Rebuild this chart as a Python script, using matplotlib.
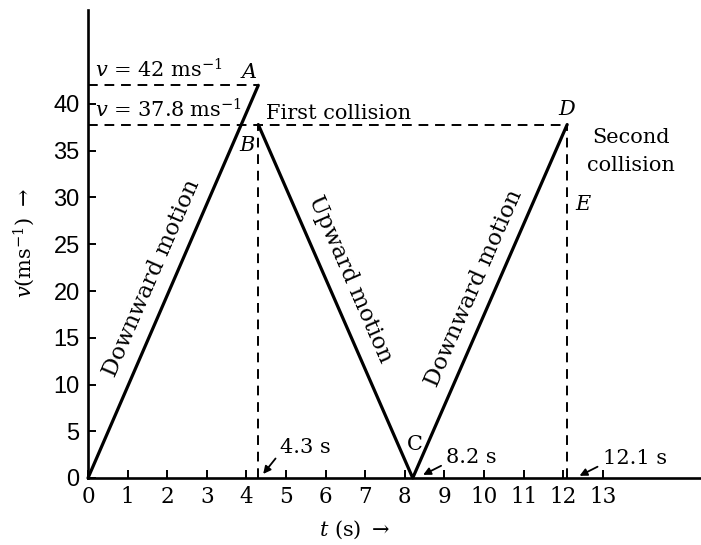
import numpy as np
import matplotlib.pyplot as plt

plt.rcParams['font.family'] = ['DejaVu Serif']
plt.rcParams['mathtext.fontset'] = 'dejavuserif'

# velocity-time path of the bouncing ball: O -> A, B -> C -> D
t_pts = [0.0, 4.3, 4.3, 8.2, 12.1]
v_pts = [0.0, 42.0, 37.8, 0.0, 37.8]
point_names = ['A', 'B', 'C', 'D']
x_ticks = list(range(0, 14))
y_ticks = list(range(0, 45, 5))
t_marks = [4.3, 8.2, 12.1]
v_peak = 42.0
v_rebound = 37.8

fig = plt.figure(figsize=(7.01, 5.45), dpi=100)
ax = fig.add_axes([88 / 701, 67 / 545, 613 / 701, 468 / 545])
ax.set_xlim(0, 613 / 39.6)
ax.set_ylim(0, 468 / 9.35)

for s in ['top', 'right']:
    ax.spines[s].set_visible(False)
for s in ['left', 'bottom']:
    ax.spines[s].set_linewidth(1.9)
    ax.spines[s].set_color('black')

ax.set_xticks(x_ticks)
ax.set_yticks(y_ticks)
ax.tick_params(direction='in', length=6, width=1.4)
ax.tick_params(axis='x', labelsize=15.5, pad=6)
ax.tick_params(axis='y', pad=6)
for lab in ax.get_yticklabels():
    lab.set_family(['Liberation Sans Narrow', 'Liberation Sans'])
    lab.set_fontsize(17)

# main v-t line
ax.plot(t_pts[:2], v_pts[:2], color='black', lw=2.3, clip_on=False, solid_capstyle='round')
ax.plot(t_pts[2:], v_pts[2:], color='black', lw=2.3, clip_on=False, solid_capstyle='round')

# dashed guide lines
dash = dict(color='black', lw=1.4, dashes=(5, 3.5))
ax.plot([0, t_pts[1]], [v_peak, v_peak], **dash)
ax.plot([0, t_pts[4]], [v_rebound, v_rebound], **dash)
ax.plot([t_marks[0], t_marks[0]], [0, v_rebound], **dash)
ax.plot([t_marks[2], t_marks[2]], [0, v_rebound], **dash)

fs = 15
ax.text(0.18, 42.4, r'$v$ = 42 ms$^{-1}$', fontsize=fs, va='bottom')
ax.text(0.18, 38.1, r'$v$ = 37.8 ms$^{-1}$', fontsize=fs, va='bottom')
ax.text(4.25, 42.4, point_names[0], fontsize=fs, style='italic', ha='right', va='bottom')
ax.text(4.2, 35.6, point_names[1], fontsize=fs, style='italic', ha='right', va='center')
ax.text(8.25, 3.6, point_names[2], fontsize=fs, ha='center', va='center')
ax.text(12.1, 38.4, point_names[3], fontsize=fs, style='italic', ha='center', va='bottom')
ax.text(12.3, 29.2, 'E', fontsize=fs, style='italic', ha='left', va='center')
ax.text(4.5, 39.0, 'First collision', fontsize=fs, va='center')
ax.text(13.7, 34.9, 'Second\ncollision', fontsize=fs, ha='center', va='center',
        linespacing=1.6)

# rotated labels along the motion segments
def seg_angle(t0, v0, t1, v1):
    p0 = ax.transData.transform((t0, v0))
    p1 = ax.transData.transform((t1, v1))
    return np.degrees(np.arctan2(p1[1] - p0[1], p1[0] - p0[0]))

rfs = 16.5
ax.text(1.6, 21.4, 'Downward motion', fontsize=rfs, ha='center', va='center',
        rotation=seg_angle(t_pts[0], v_pts[0], t_pts[1], v_pts[1]), rotation_mode='anchor')
ax.text(6.62, 21.3, 'Upward motion', fontsize=rfs, ha='center', va='center',
        rotation=seg_angle(t_pts[2], v_pts[2], t_pts[3], v_pts[3]), rotation_mode='anchor')
ax.text(9.75, 20.3, 'Downward motion', fontsize=rfs, ha='center', va='center',
        rotation=seg_angle(t_pts[3], v_pts[3], t_pts[4], v_pts[4]), rotation_mode='anchor')

# time markers with arrows
arrow = dict(arrowstyle='-|>', color='black', lw=1.3, mutation_scale=11, relpos=(0, 0.2))
ax.annotate('4.3 s', xy=(t_marks[0] + 0.08, 0.2), xytext=(4.85, 3.3), fontsize=fs,
            va='center', ha='left', arrowprops=arrow)
ax.annotate('8.2 s', xy=(t_marks[1] + 0.2, 0.2), xytext=(9.05, 2.2), fontsize=fs,
            va='center', ha='left', arrowprops=arrow)
ax.annotate('12.1 s', xy=(t_marks[2] + 0.25, 0.1), xytext=(13.0, 2.1), fontsize=fs,
            va='center', ha='left', arrowprops=arrow)

fig.text(355 / 701, 1 - 530 / 545, r'$t$ (s) $\rightarrow$', fontsize=fs,
         ha='center', va='center')
fig.text(24 / 701, 1 - 243 / 545, r'$v$(ms$^{-1}$) $\rightarrow$', fontsize=fs,
         ha='center', va='center', rotation=90)

fig.savefig('out.png', dpi=100)
